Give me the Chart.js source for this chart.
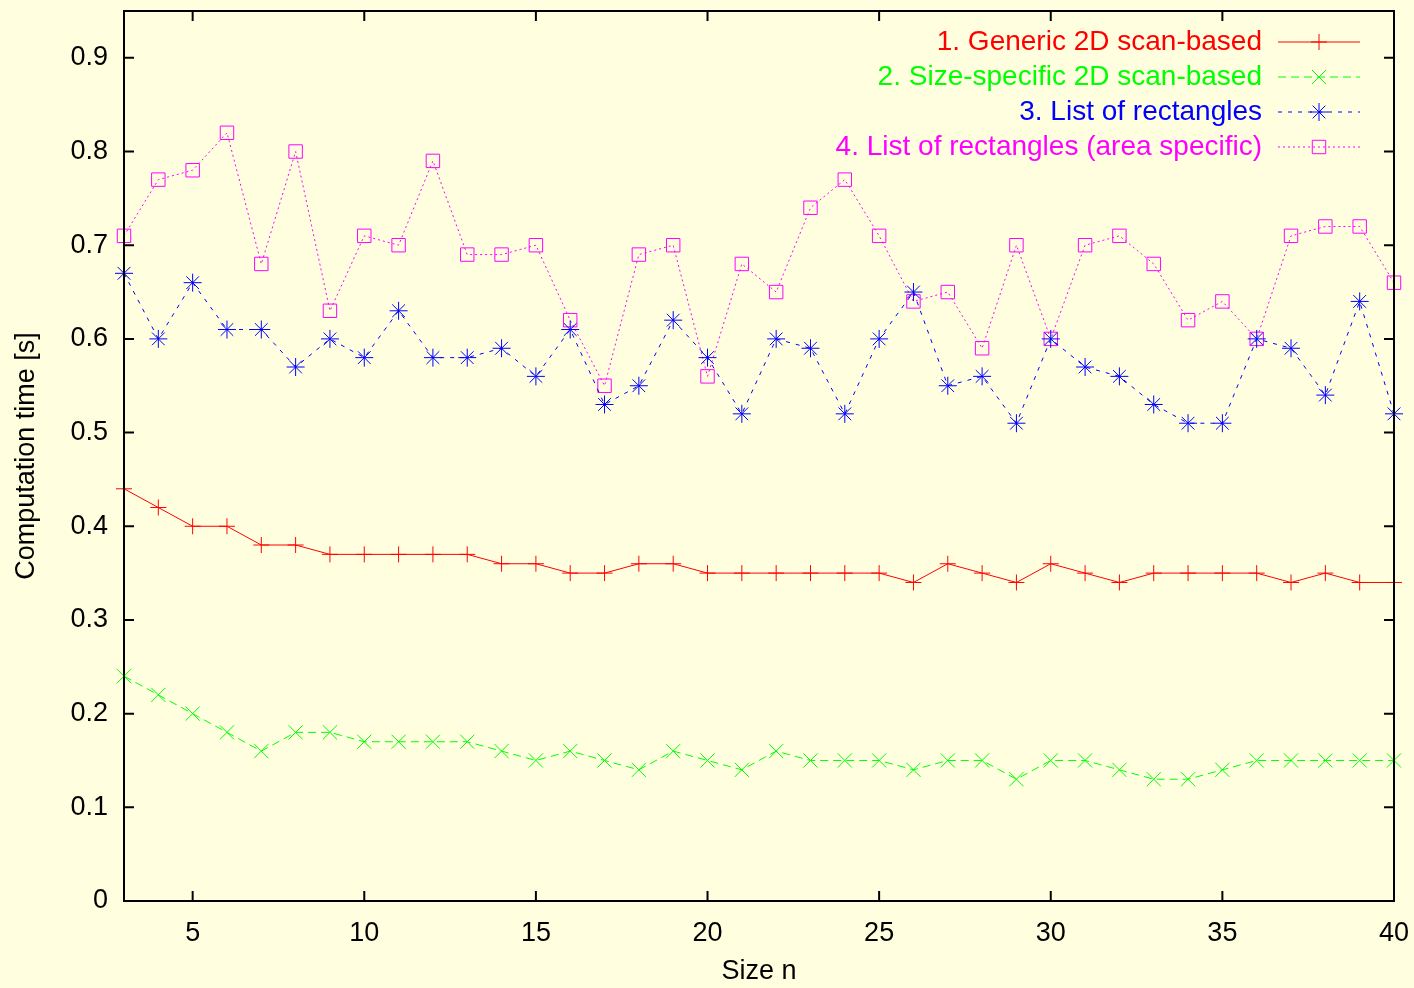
<!DOCTYPE html>
<html>
<head>
<meta charset="utf-8">
<script src="https://cdn.jsdelivr.net/npm/chart.js@4/dist/chart.umd.min.js"></script>
<style>
  html, body { margin: 0; padding: 0; background: #ffffe0; }
  #wrap { width: 1414px; height: 988px; }
</style>
</head>
<body>
<div id="wrap"><canvas id="myChart"></canvas></div>
<script>
// problem size n
const sizes = [3, 4, 5, 6, 7, 8, 9, 10, 11, 12, 13, 14, 15, 16, 17, 18, 19, 20, 21,
  22, 23, 24, 25, 26, 27, 28, 29, 30, 31, 32, 33, 34, 35, 36, 37, 38, 39, 40];

const genericScan = [0.44, 0.42, 0.40, 0.40, 0.38, 0.38, 0.37, 0.37, 0.37, 0.37, 0.37, 0.36, 0.36,
  0.35, 0.35, 0.36, 0.36, 0.35, 0.35, 0.35, 0.35, 0.35, 0.35, 0.34, 0.36, 0.35, 0.34, 0.36,
  0.35, 0.34, 0.35, 0.35, 0.35, 0.35, 0.34, 0.35, 0.34, 0.34];
const sizeSpecificScan = [0.24, 0.22, 0.20, 0.18, 0.16, 0.18, 0.18, 0.17, 0.17, 0.17, 0.17, 0.16, 0.15,
  0.16, 0.15, 0.14, 0.16, 0.15, 0.14, 0.16, 0.15, 0.15, 0.15, 0.14, 0.15, 0.15, 0.13, 0.15,
  0.15, 0.14, 0.13, 0.13, 0.14, 0.15, 0.15, 0.15, 0.15, 0.15];
const rectList = [0.67, 0.60, 0.66, 0.61, 0.61, 0.57, 0.60, 0.58, 0.63, 0.58, 0.58, 0.59, 0.56,
  0.61, 0.53, 0.55, 0.62, 0.58, 0.52, 0.60, 0.59, 0.52, 0.60, 0.65, 0.55, 0.56, 0.51, 0.60,
  0.57, 0.56, 0.53, 0.51, 0.51, 0.60, 0.59, 0.54, 0.64, 0.52];
const rectListArea = [0.71, 0.77, 0.78, 0.82, 0.68, 0.80, 0.63, 0.71, 0.70, 0.79, 0.69, 0.69, 0.70,
  0.62, 0.55, 0.69, 0.70, 0.56, 0.68, 0.65, 0.74, 0.77, 0.71, 0.64, 0.65, 0.59, 0.70, 0.60,
  0.70, 0.71, 0.68, 0.62, 0.64, 0.60, 0.71, 0.72, 0.72, 0.66];

const xTicks = [5, 10, 15, 20, 25, 30, 35, 40];
const yTicks = [0, 0.1, 0.2, 0.3, 0.4, 0.5, 0.6, 0.7, 0.8, 0.9];

const FONT = "'Liberation Sans', Arial, sans-serif";

function pts(arr) {
  return arr.map((v, i) => ({ x: sizes[i], y: v }));
}

function series(label, values, color, dash, style, radius) {
  return {
    label: label,
    data: pts(values),
    borderColor: color,
    borderWidth: 1,
    borderDash: dash,
    pointStyle: style,
    pointRadius: radius,
    pointBorderColor: color,
    pointBackgroundColor: 'rgba(0,0,0,0)',
    pointBorderWidth: 1,
    fill: false,
    tension: 0,
    clip: false
  };
}

// gnuplot-style frame with inward ticks on all four sides
const frame = {
  id: 'frame',
  afterDatasetsDraw(chart) {
    const ctx = chart.ctx;
    const a = chart.chartArea;
    const xs = chart.scales.x, ys = chart.scales.y;
    const len = 10;
    ctx.save();
    ctx.strokeStyle = '#000';
    ctx.lineWidth = 2;
    ctx.beginPath();
    xTicks.forEach(v => {
      const px = xs.getPixelForValue(v);
      ctx.moveTo(px, a.bottom); ctx.lineTo(px, a.bottom - len);
      ctx.moveTo(px, a.top); ctx.lineTo(px, a.top + len);
    });
    yTicks.forEach(v => {
      const py = ys.getPixelForValue(v);
      ctx.moveTo(a.left, py); ctx.lineTo(a.left + len, py);
      ctx.moveTo(a.right, py); ctx.lineTo(a.right - len, py);
    });
    ctx.stroke();
    ctx.strokeRect(a.left, a.top, a.right - a.left, a.bottom - a.top);
    ctx.restore();
  }
};

// legend inside top right: text right aligned, sample line to the right
const keyBox = {
  id: 'keyBox',
  afterDraw(chart) {
    const ctx = chart.ctx;
    const a = chart.chartArea;
    const textRight = a.right - 132;
    const x0 = a.right - 116, x1 = a.right - 34;
    ctx.save();
    ctx.font = '28px ' + FONT;
    ctx.textAlign = 'right';
    ctx.textBaseline = 'middle';
    chart.data.datasets.forEach((ds, i) => {
      const y = a.top + 31 + i * 35;
      ctx.fillStyle = ds.borderColor;
      ctx.fillText(ds.label, textRight, y);
      ctx.strokeStyle = ds.borderColor;
      ctx.lineWidth = 1;
      ctx.setLineDash(ds.borderDash);
      ctx.beginPath();
      ctx.moveTo(x0, y); ctx.lineTo(x1, y);
      ctx.stroke();
      ctx.setLineDash([]);
      ctx.fillStyle = 'rgba(0,0,0,0)';
      Chart.helpers.drawPoint(ctx, {
        pointStyle: ds.pointStyle, radius: ds.pointRadius, borderWidth: 1
      }, (x0 + x1) / 2, y);
    });
    ctx.restore();
  }
};

const bg = {
  id: 'bg',
  beforeDraw(chart) {
    const ctx = chart.ctx;
    ctx.save();
    ctx.fillStyle = '#ffffe0';
    ctx.fillRect(0, 0, chart.width, chart.height);
    ctx.restore();
  }
};

new Chart(document.getElementById('myChart').getContext('2d'), {
  type: 'line',
  data: {
    datasets: [
      series('1. Generic 2D scan-based', genericScan, '#ff0000', [], 'cross', 8),
      series('2. Size-specific 2D scan-based', sizeSpecificScan, '#00ff00', [8, 5], 'crossRot', 10),
      series('3. List of rectangles', rectList, '#0000ff', [4, 6], 'star', 9),
      series('4. List of rectangles (area specific)', rectListArea, '#ff00ff', [2, 3], 'rect', 9.5)
    ]
  },
  options: {
    responsive: true,
    maintainAspectRatio: false,
    animation: false,
    devicePixelRatio: 1,
    layout: { padding: { top: 9, right: 20, left: 0, bottom: 0 } },
    plugins: {
      legend: { display: false },
      tooltip: { enabled: false }
    },
    scales: {
      x: {
        type: 'linear',
        min: 3,
        max: 40,
        afterBuildTicks: s => { s.ticks = xTicks.map(v => ({ value: v })); },
        afterFit: s => { s.height = 87; s.paddingLeft = 0; s.paddingRight = 0; },
        grid: { display: false, drawTicks: false },
        border: { display: false },
        ticks: { color: '#000', padding: 16, font: { family: FONT, size: 27 }, maxRotation: 0 },
        title: { display: true, text: 'Size n', color: '#000', font: { family: FONT, size: 27 }, padding: { top: 4, bottom: 0 } }
      },
      y: {
        type: 'linear',
        min: 0,
        max: 0.95,
        afterBuildTicks: s => { s.ticks = yTicks.map(v => ({ value: v })); },
        afterFit: s => { s.width = 124; s.paddingTop = 0; s.paddingBottom = 0; },
        grid: { display: false, drawTicks: false },
        border: { display: false },
        ticks: {
          color: '#000', padding: 16, font: { family: FONT, size: 27 },
          callback: v => v === 0 ? '0' : v.toFixed(1)
        },
        title: { display: true, text: 'Computation time [s]', color: '#000', font: { family: FONT, size: 27 }, padding: { top: 10, bottom: 0 } }
      }
    }
  },
  plugins: [bg, frame, keyBox]
});
</script>
</body>
</html>
